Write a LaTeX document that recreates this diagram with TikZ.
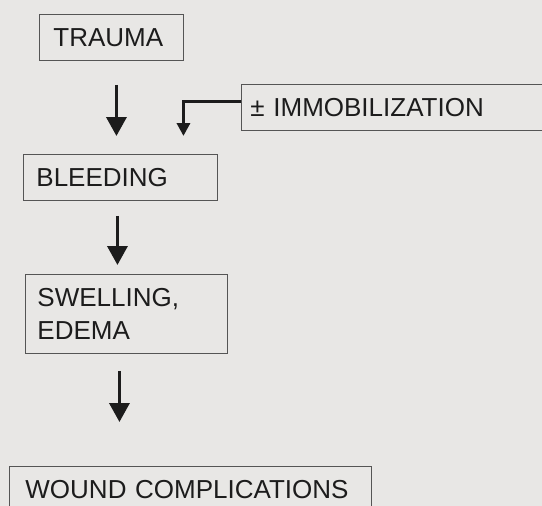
\documentclass[tikz,border=0pt]{standalone}
\usepackage{fontspec}
\setmainfont{Liberation Sans}
\usetikzlibrary{positioning, arrows.meta}
\definecolor{paper}{RGB}{232,231,229}
\definecolor{ink}{RGB}{28,28,28}
\definecolor{boxline}{RGB}{85,85,85}

\begin{document}
\begin{tikzpicture}[
        x=1pt, y=1pt,
        stage/.style={draw=boxline, line width=0.9pt, rectangle, anchor=north west, align=left, minimum height=46pt, text=ink, font=\fontsize{26}{33}\selectfont},
        flow/.style={->, ink, line width=3.5pt},
        side/.style={->, ink, line width=3.5pt, >={Triangle[length=13pt, width=13pt]}},
        >={Triangle[length=19pt, width=20pt]}
    ]
        \fill[paper] (0,0) rectangle (542,-506);
        \useasboundingbox (0,0) rectangle (542,-506);

        \node[stage, inner xsep=14pt, text width=116pt] (trauma) at (39,-14) {TRAUMA};
        \node[stage, inner xsep=9pt, text width=301pt] (immob) at (241,-84) {± IMMOBILIZATION};
        \node[stage, inner xsep=13pt, text width=168pt] (bleed) at (23,-154) {BLEEDING};
        \node[stage, inner xsep=12pt, text width=178pt, minimum height=79pt] (swell) at (25,-274) {SWELLING,\\EDEMA};
        \node[stage, inner xsep=16pt, text width=330pt] (wound) at (9,-466) {WOUND COMPLICATIONS};

        \draw[flow, shorten <=24pt, shorten >=18pt] ([xshift=5pt]trauma.south) -- ([xshift=5pt]trauma.south |- bleed.north);
        \draw[side, shorten >=18pt] ([yshift=6pt]immob.west) -| ([xshift=63pt]bleed.north);
        \draw[flow, shorten <=15pt, shorten >=9pt] ([xshift=-3pt]bleed.south) -- ([xshift=-3pt]bleed.south |- swell.north);
        \draw[flow, shorten <=17pt, shorten >=44pt] ([xshift=-7pt]swell.south) -- ([xshift=-7pt]swell.south |- wound.north);
    \end{tikzpicture}
\end{document}
